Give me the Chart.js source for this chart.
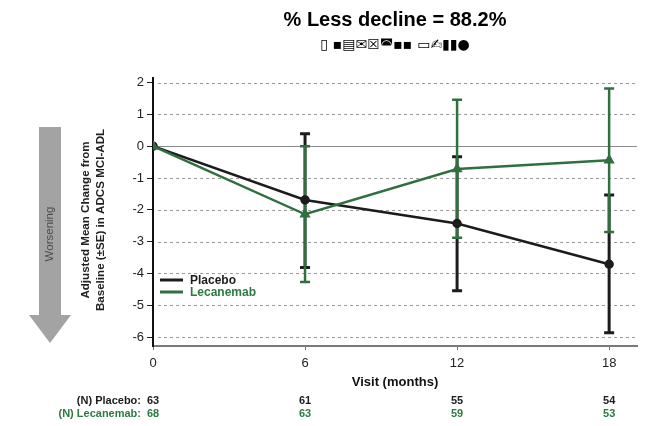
<!DOCTYPE html>
<html>
<head>
<meta charset="utf-8">
<script src="https://cdn.jsdelivr.net/npm/chart.js@4.4.0/dist/chart.umd.min.js"></script>
<style>
  html, body { margin: 0; padding: 0; background: #fff; }
  #wrap { width: 664px; height: 426px; }
</style>
</head>
<body>
<div id="wrap"><canvas id="c"></canvas></div>
<script>
// valeurs
const months = [0, 6, 12, 18];
const placeboMean = [0, -1.69, -2.43, -3.71];
const placeboUpper = [0, 0.39, -0.33, -1.53];
const placeboLower = [0, -3.81, -4.54, -5.86];
const lecMean = [0, -2.14, -0.72, -0.44];
const lecUpper = [0, 0, 1.46, 1.81];
const lecLower = [0, -4.27, -2.88, -2.70];
const nPlacebo = [63, 61, 55, 54];
const nLecanemab = [68, 63, 59, 53];

const BLACK = '#1c1c1c';
const GREEN = '#2f6f40';
const GREEN_TXT = '#2e7a45';
const FONT = "'Liberation Sans', Arial, sans-serif";

function toPoints(xs, ys) {
    let pts = [];
    for (let i = 0; i < xs.length; i++) {
        pts.push({ x: xs[i], y: ys[i] });
    }
    return pts;
}

//grille + barres d'erreur, sous les courbes
const underPlugin = {
    id: 'under',
    beforeDatasetsDraw(chart) {
        const { ctx, chartArea, scales } = chart;
        const y = scales.y, x = scales.x;
        ctx.save();
        y.ticks.forEach(t => {
            const py = Math.round(y.getPixelForValue(t.value)) + 0.5;
            ctx.beginPath();
            ctx.lineWidth = 1;
            if (t.value === 0) {
                ctx.setLineDash([]);
                ctx.strokeStyle = '#8a8a8a';
                ctx.moveTo(chartArea.left + 1, py);
            } else {
                ctx.setLineDash([3, 3]);
                ctx.strokeStyle = '#9a9a9a';
                ctx.moveTo(chartArea.left + 5, py);
            }
            ctx.lineTo(chartArea.right, py);
            ctx.stroke();
        });
        ctx.setLineDash([]);

        function bars(lower, upper, color, width) {
            ctx.strokeStyle = color;
            ctx.lineWidth = width;
            for (let i = 1; i < months.length; i++) {
                const px = x.getPixelForValue(months[i]);
                const top = y.getPixelForValue(upper[i]);
                const bot = y.getPixelForValue(lower[i]);
                ctx.beginPath();
                ctx.moveTo(px, top); ctx.lineTo(px, bot);
                ctx.moveTo(px - 5, top); ctx.lineTo(px + 5, top);
                ctx.moveTo(px - 5, bot); ctx.lineTo(px + 5, bot);
                ctx.stroke();
            }
        }
        bars(placeboLower, placeboUpper, BLACK, 3);
        bars(lecLower, lecUpper, GREEN, 2.5);
        ctx.restore();
    }
};

//textes autour du graphique
const textPlugin = {
    id: 'texts',
    afterDraw(chart) {
        const { ctx, chartArea, scales } = chart;
        const x = scales.x;
        ctx.save();

        // fleche "Worsening"
        ctx.fillStyle = '#a3a3a3';
        ctx.beginPath();
        ctx.moveTo(39, 127); ctx.lineTo(61, 127); ctx.lineTo(61, 315);
        ctx.lineTo(71, 315); ctx.lineTo(50, 343); ctx.lineTo(29, 315);
        ctx.lineTo(39, 315);
        ctx.closePath();
        ctx.fill();

        ctx.save();
        ctx.translate(50, 234);
        ctx.rotate(-Math.PI / 2);
        ctx.fillStyle = '#4d4d4d';
        ctx.font = '11.5px ' + FONT;
        ctx.textAlign = 'center';
        ctx.textBaseline = 'middle';
        ctx.fillText('Worsening', 0, 0);
        ctx.restore();

        // titre axe y
        ctx.save();
        ctx.translate(93, 220);
        ctx.rotate(-Math.PI / 2);
        ctx.fillStyle = '#222';
        ctx.font = 'bold 11.6px ' + FONT;
        ctx.textAlign = 'center';
        ctx.textBaseline = 'middle';
        ctx.fillText('Adjusted Mean Change from', 0, -7.5);
        ctx.fillText('Baseline (±SE) in ADCS MCI-ADL', 0, 7.5);
        ctx.restore();

        // legende
        const lx = chartArea.left + 7;
        const ly = 280;
        ctx.lineWidth = 3;
        ctx.strokeStyle = BLACK;
        ctx.beginPath(); ctx.moveTo(lx, ly); ctx.lineTo(lx + 23, ly); ctx.stroke();
        ctx.strokeStyle = GREEN;
        ctx.beginPath(); ctx.moveTo(lx, ly + 12); ctx.lineTo(lx + 23, ly + 12); ctx.stroke();
        ctx.font = 'bold 12px ' + FONT;
        ctx.textAlign = 'left';
        ctx.textBaseline = 'middle';
        ctx.fillStyle = BLACK;
        ctx.fillText('Placebo', lx + 30, ly + 1);
        ctx.fillStyle = GREEN_TXT;
        ctx.fillText('Lecanemab', lx + 30, ly + 13);

        // effectifs
        ctx.font = 'bold 11px ' + FONT;
        ctx.textAlign = 'right';
        ctx.fillStyle = BLACK;
        ctx.fillText('(N) Placebo:', 141, 401);
        ctx.fillStyle = GREEN_TXT;
        ctx.fillText('(N) Lecanemab:', 141, 414);
        ctx.textAlign = 'center';
        for (let i = 0; i < months.length; i++) {
            const px = x.getPixelForValue(months[i]);
            ctx.fillStyle = BLACK;
            ctx.fillText(String(nPlacebo[i]), px, 401);
            ctx.fillStyle = GREEN_TXT;
            ctx.fillText(String(nLecanemab[i]), px, 414);
        }
        ctx.restore();
    }
};

window.addEventListener('load', () => {
    const context = document.getElementById('c').getContext('2d');

    let conData = {
        datasets: [{
            label: 'Placebo',
            data: toPoints(months, placeboMean),
            borderColor: BLACK,
            backgroundColor: BLACK,
            borderWidth: 2.5,
            pointRadius: 3.5,
            pointStyle: 'circle',
            order: 2
        }, {
            label: 'Lecanemab',
            data: toPoints(months, lecMean),
            borderColor: GREEN,
            backgroundColor: GREEN,
            borderWidth: 2.5,
            pointRadius: 4,
            pointStyle: 'triangle',
            order: 1
        }]
    };

    let options = {
        responsive: true,
        maintainAspectRatio: false,
        animation: false,
        layout: { padding: { left: 0, right: 27, top: 0, bottom: 0 } },
        plugins: {
            legend: { display: false },
            tooltip: { enabled: false },
            title: {
                display: true,
                fullSize: false,
                text: '% Less decline = 88.2%',
                color: '#000',
                font: { family: FONT, size: 20, weight: 'bold' },
                padding: { top: 8, bottom: 5 }
            },
            subtitle: {
                display: true,
                fullSize: false,
                text: '▯ ▪▤✉☒◚▪▪ ▭✍▮▮●',
                color: '#000',
                font: { family: "'DejaVu Sans', sans-serif", size: 14, weight: 'bold' },
                padding: { top: 0, bottom: 24 }
            }
        },
        scales: {
            x: {
                type: 'linear',
                min: 0,
                max: 19.1,
                afterBuildTicks: s => { s.ticks = months.map(v => ({ value: v })); },
                afterFit: s => { s.height = 80; },
                grid: { drawOnChartArea: false, drawTicks: true, tickLength: 4, tickColor: '#777', tickWidth: 1 },
                border: { color: '#7a7a7a', width: 2 },
                ticks: { color: '#222', font: { family: FONT, size: 13 }, padding: 6, maxRotation: 0 },
                title: {
                    display: true,
                    text: 'Visit (months)',
                    color: '#111',
                    font: { family: FONT, size: 13, weight: 'bold' },
                    padding: { top: 0, bottom: 36 }
                }
            },
            y: {
                min: -6.28,
                max: 2.15,
                afterFit: s => { s.width = 153; },
                grid: { drawOnChartArea: false, drawTicks: true, tickLength: 6, tickColor: '#222', tickWidth: 1 },
                border: { color: '#111', width: 2 },
                ticks: { stepSize: 1, includeBounds: false, color: '#222', font: { family: FONT, size: 13 }, padding: 3 }
            }
        }
    };

    let config = {
        type: 'line',
        data: conData,
        options: options,
        plugins: [underPlugin, textPlugin]
    };

    let chart = new Chart(context, config);
});
</script>
</body>
</html>
